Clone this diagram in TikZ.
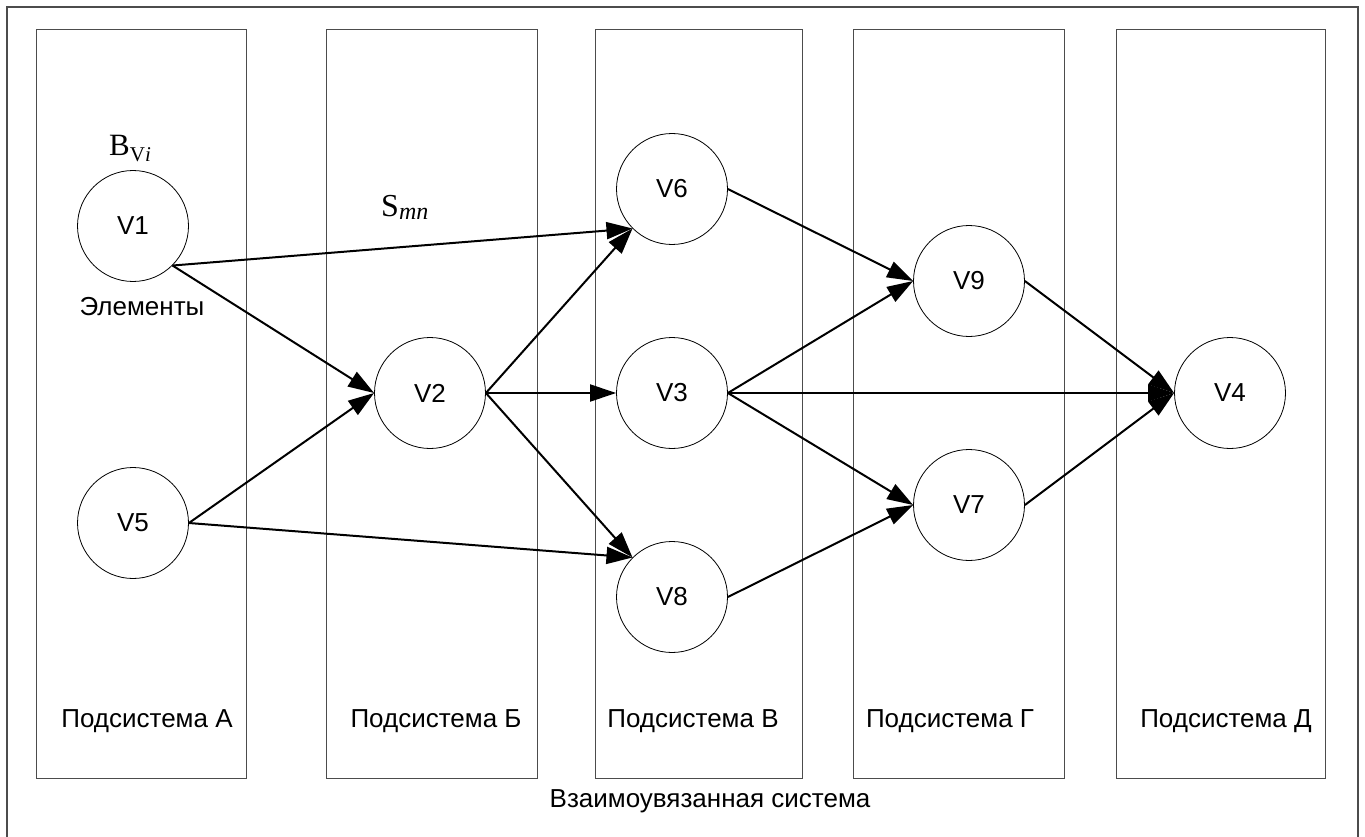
\documentclass[tikz,border=0pt]{standalone}
\usepackage{fontspec}
\setmainfont{Liberation Sans}
\newfontfamily\serifrm{Liberation Serif}
\usetikzlibrary{arrows.meta}
\begin{document}
\begin{tikzpicture}[x=1pt,y=-1pt,
  frame/.style={draw=black!70, line width=1.2pt},
  column/.style={draw=black!70, line width=1pt},
  vertex/.style={circle, draw=black, line width=0.8pt, minimum size=111pt,
    inner sep=0pt, font=\fontsize{26}{26}\selectfont},
  lbl/.style={font=\fontsize{26}{26}\selectfont, inner sep=0pt},
  mathlbl/.style={inner sep=0pt},
  link/.style={line width=2pt, -{Triangle[length=26pt,width=17pt]}},
  ]
\useasboundingbox (0,0) rectangle (1365,837);
\clip (0,0) rectangle (1365,837);

% outer frame of the whole system (its lower edge lies below the page)
\draw[frame] (7,7) rectangle (1358,860);

% subsystem columns
\draw[column] (36,30)   rectangle (246,778);
\draw[column] (326,30)  rectangle (537,778);
\draw[column] (595,30)  rectangle (802,778);
\draw[column] (853,30)  rectangle (1064,778);
\draw[column] (1116,30) rectangle (1325,778);

% column captions
\node[lbl, anchor=base] (capA) at (147,727)  {Подсистема А};
\node[lbl, anchor=base] (capB) at (436,727)  {Подсистема Б};
\node[lbl, anchor=base] (capC) at (693,727)  {Подсистема В};
\node[lbl, anchor=base] (capD) at (950,727)  {Подсистема Г};
\node[lbl, anchor=base] (capE) at (1226,727) {Подсистема Д};
\node[lbl, anchor=base] (whole) at (710,807) {Взаимоувязанная система};

% elements
\node[vertex] (v1) at (133,226)  {V1};
\node[vertex] (v5) at (133,523)  {V5};
\node[vertex] (v2) at (430,393)  {V2};
\node[vertex] (v6) at (672,189)  {V6};
\node[vertex] (v3) at (672,393)  {V3};
\node[vertex] (v8) at (672,597)  {V8};
\node[vertex] (v9) at (969,281)  {V9};
\node[vertex] (v7) at (969,505)  {V7};
\node[vertex] (v4) at (1230,393) {V4};

% annotations
\node[mathlbl, anchor=base west, font=\serifrm\fontsize{31}{31}\selectfont] (bvi) at (109,156)
  {B{\fontsize{21}{21}\selectfont\raisebox{-6pt}{V\textit{i}}}};
\node[mathlbl, anchor=base west, font=\serifrm\fontsize{32}{32}\selectfont] (smn) at (381,217)
  {S{\fontsize{24}{24}\selectfont\raisebox{-3pt}{\textit{mn}}}};
\node[lbl, anchor=base] (elems) at (142,315) {Элементы};

% links between elements
\draw[link] (v1.-45) -- (v6.-135);
\draw[link] (v1.-45) -- (v2.west);
\draw[link] (v5.east) -- (v2.west);
\draw[link] (v5.east) -- (v8.135);
\draw[link] (v2.east) -- (v6.-135);
\draw[link] (v2.east) -- (v3.west);
\draw[link] (v2.east) -- (v8.135);
\draw[link] (v6.east) -- (v9.west);
\draw[link] (v3.east) -- (v9.west);
\draw[link] (v3.east) -- (v4.west);
\draw[link] (v3.east) -- (v7.west);
\draw[link] (v8.east) -- (v7.west);
\draw[link] (v9.east) -- (v4.west);
\draw[link] (v7.east) -- (v4.west);
\end{tikzpicture}
\end{document}
